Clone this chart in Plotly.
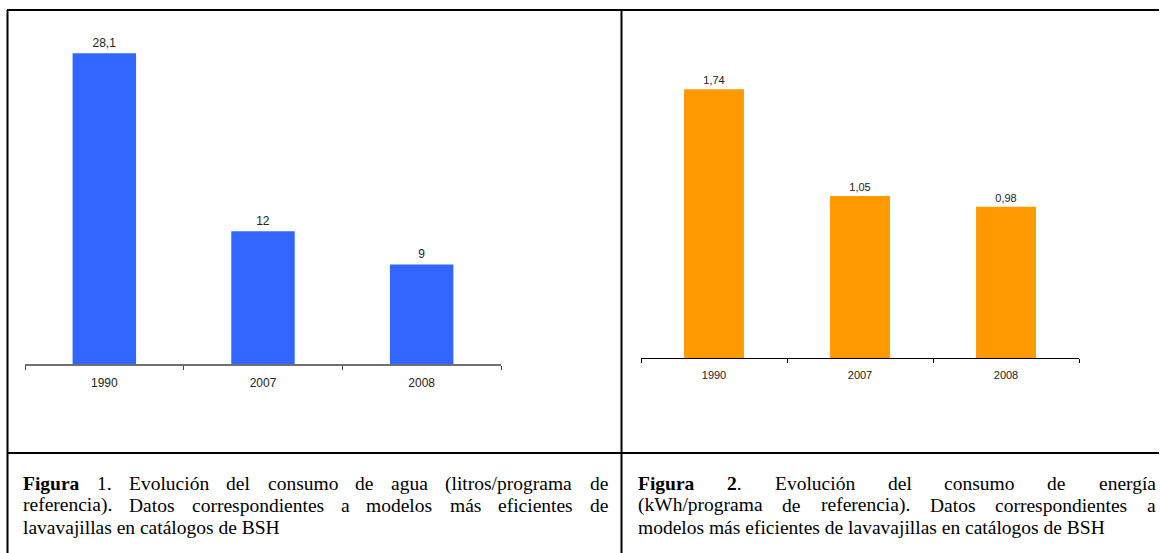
import re
import plotly.graph_objects as go

# --- data -------------------------------------------------------------
years = ["1990", "2007", "2008"]
agua = [28.1, 12, 9]          # litros / programa de referencia
energia = [1.74, 1.05, 0.98]  # kWh / programa de referencia

caption1 = [
    ["<b>Figura</b>", "1.", "Evolución", "del", "consumo", "de", "agua", "(litros/programa", "de"],
    ["referencia).", "Datos", "correspondientes", "a", "modelos", "más", "eficientes", "de"],
    ["lavavajillas", "en", "catálogos", "de", "BSH"],
]
caption2 = [
    ["<b>Figura</b>", "<b>2</b>.", "Evolución", "del", "consumo", "de", "energía"],
    ["(kWh/programa", "de", "referencia).", "Datos", "correspondientes", "a"],
    ["modelos", "más", "eficientes", "de", "lavavajillas", "en", "catálogos", "de", "BSH"],
]

# --- page geometry ----------------------------------------------------
W, H = 1160, 553
CAP_SIZE = 19.5
CAP_FONT = "Liberation Serif"


def px(x):
    return x / W


def py(y):
    return 1 - y / H


def fmt(v):
    return f"{v:g}".replace(".", ",")


# Times-compatible advance widths (1/1000 em) used to justify caption lines
REG = {" ": 250, "(": 333, ")": 333, ".": 250, "/": 278, "1": 500, "2": 500,
       "B": 667, "D": 722, "E": 611, "F": 556, "H": 722, "S": 556, "W": 944,
       "a": 444, "c": 444, "d": 500, "e": 444, "f": 333, "g": 500, "h": 500,
       "i": 278, "j": 278, "k": 500, "l": 278, "m": 778, "n": 500, "o": 500,
       "p": 500, "r": 333, "s": 389, "t": 278, "u": 500, "v": 500,
       "á": 444, "í": 278, "ó": 500}
BOLD = {"F": 611, "i": 278, "g": 500, "u": 556, "r": 444, "a": 500,
        "1": 500, "2": 500, ".": 250}


def word_width(word, size):
    total, bold = 0, False
    for tok in re.split(r"(</?b>)", word):
        if tok == "<b>":
            bold = True
        elif tok == "</b>":
            bold = False
        else:
            for ch in tok:
                total += (BOLD if bold else REG).get(ch, 500)
    return total * size / 1000


annotations = []


def add_caption(lines, left, right, centers):
    for i, (words, yc) in enumerate(zip(lines, centers)):
        last = i == len(lines) - 1
        if last:
            annotations.append(dict(
                x=px(left), y=py(yc), xref="paper", yref="paper",
                xanchor="left", yanchor="middle", showarrow=False,
                text=" ".join(words), borderpad=0,
                font=dict(family=CAP_FONT, size=CAP_SIZE, color="#000")))
            continue
        widths = [word_width(w, CAP_SIZE) for w in words]
        gap = (right - left - sum(widths)) / (len(words) - 1)
        x = left
        for w, wd in zip(words, widths):
            annotations.append(dict(
                x=px(x), y=py(yc), xref="paper", yref="paper",
                xanchor="left", yanchor="middle", showarrow=False,
                text=w, borderpad=0,
                font=dict(family=CAP_FONT, size=CAP_SIZE, color="#000")))
            x += wd + gap


line_centers = [483.5, 505.3, 527.1]
add_caption(caption1, 22, 607, line_centers)
add_caption(caption2, 637, 1155, line_centers)

# --- bars -------------------------------------------------------------
fig = go.Figure()
fig.add_trace(go.Bar(
    x=years, y=agua, text=[fmt(v) for v in agua], textposition="outside",
    marker=dict(color="#3366FF", line_width=0), width=0.4, cliponaxis=False,
    textfont=dict(family="Liberation Sans", size=12, color="#222"),
    xaxis="x", yaxis="y", showlegend=False, hoverinfo="skip"))
fig.add_trace(go.Bar(
    x=years, y=energia, text=[fmt(v) for v in energia], textposition="outside",
    marker=dict(color="#FF9900", line_width=0), width=0.41, cliponaxis=False,
    textfont=dict(family="Liberation Sans", size=11, color="#222"),
    xaxis="x2", yaxis="y2", showlegend=False, hoverinfo="skip"))

xcommon = dict(type="category", showgrid=False, zeroline=False, showline=True,
               ticks="outside", tickson="boundaries", ticklen=4,
               fixedrange=True)
ycommon = dict(visible=False, showgrid=False, zeroline=False, fixedrange=True)

# --- table frame ------------------------------------------------------
frame = dict(type="line", xref="paper", yref="paper",
             line=dict(color="#000", width=2))
shapes = [
    dict(frame, x0=px(7), x1=px(1159), y0=py(10), y1=py(10)),
    dict(frame, x0=px(7), x1=px(1159), y0=py(453), y1=py(453)),
    dict(frame, x0=px(7.5), x1=px(7.5), y0=py(10), y1=py(553)),
    dict(frame, x0=px(621.5), x1=px(621.5), y0=py(10), y1=py(553)),
]

fig.update_layout(
    width=W, height=H, margin=dict(l=0, r=0, t=0, b=0),
    paper_bgcolor="#fff", plot_bgcolor="rgba(0,0,0,0)",
    xaxis=dict(xcommon, domain=[px(25), px(501)], anchor="y",
               linecolor="#707070", linewidth=1.5, tickcolor="#404040",
               tickfont=dict(family="Liberation Sans", size=12, color="#222"),
               ticklabelstandoff=7),
    yaxis=dict(ycommon, domain=[py(364), py(10)], range=[0, 32.0], anchor="x"),
    xaxis2=dict(xcommon, domain=[px(641), px(1079)], anchor="y2",
                linecolor="#000", linewidth=1.2, tickcolor="#000",
                tickfont=dict(family="Liberation Sans", size=11, color="#222"),
                ticklabelstandoff=6),
    yaxis2=dict(ycommon, domain=[py(358.3), py(10)], range=[0, 2.253], anchor="x2"),
    shapes=shapes,
    annotations=annotations,
)

fig.write_html("out.html", config={"displayModeBar": False})
